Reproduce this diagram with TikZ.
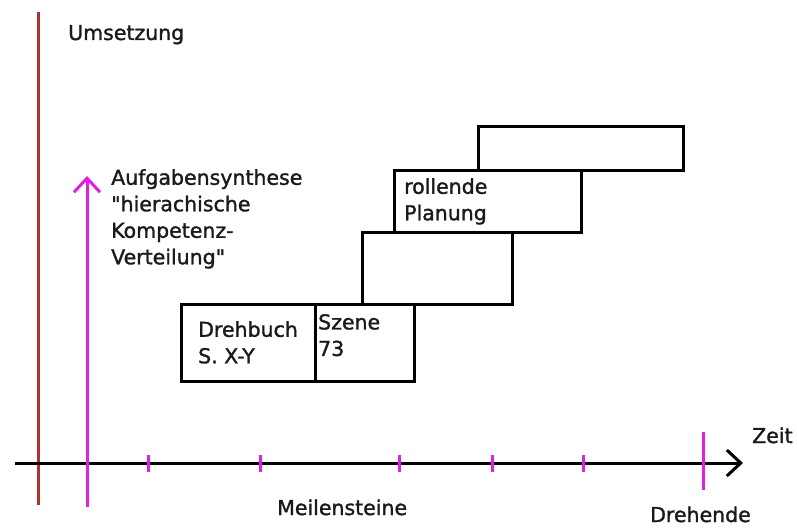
\documentclass[tikz,border=0pt]{standalone}
\usepackage{fontspec}
\setmainfont{DejaVu Sans}
\newfontfamily\lblfont{DejaVu Sans}[FakeBold=1.4]
\usetikzlibrary{arrows.meta}
\definecolor{redline}{HTML}{B03030}
\definecolor{mag}{HTML}{E020E0}
\definecolor{txt}{HTML}{1A1A1A}
\begin{document}
\begin{tikzpicture}[x=1pt,y=-1pt,
  lbl/.style={inner sep=0pt, text=txt, font=\lblfont\fontsize{20.5}{26.5}\selectfont, align=left},
  box/.style={draw=black, line width=3pt, inner sep=0pt, anchor=north west},
  tickmark/.style={draw=mag, line width=3pt},
  axis/.style={draw=black, line width=3pt, -{Straight Barb[length=14pt,width=26pt,line width=3pt]}},
  uparrow/.style={draw=mag, line width=3pt, -{Straight Barb[length=14pt,width=26pt,line width=3pt]}}]
\useasboundingbox (0,0) rectangle (797,527);
% vertical lines
\coordinate (r1) at (38,12);
\coordinate (r2) at (38,505);
\draw[draw=redline, line width=3pt] (r1) -- (r2);
% axis
\coordinate (a1) at (15,463);
\coordinate (a2) at (743,463);
\draw[axis] (a1) -- (a2);
% magenta arrow
\coordinate (m1) at (87,507);
\coordinate (m2) at (87,176);
\draw[uparrow] (m1) -- (m2);
% ticks
\foreach \x/\n in {148/t1,260/t2,399/t3,492/t4,583/t5}{
  \coordinate (\n a) at (\x,455);
  \coordinate (\n b) at (\x,472);
  \draw[tickmark] (\n a) -- (\n b);
}
\coordinate (de1) at (703,432);
\coordinate (de2) at (703,490);
\draw[tickmark] (de1) -- (de2);
% boxes
\node[box, minimum width=134pt, minimum height=77pt] (b1) at (180,303) {};
\node[box, minimum width=99pt, minimum height=77pt] (b2) at (314,303) {};
\node[box, minimum width=150pt, minimum height=72pt] (b3) at (361,231) {};
\node[box, minimum width=187pt, minimum height=62pt] (b4) at (393,169) {};
\node[box, minimum width=205pt, minimum height=44pt] (b5) at (477,125) {};
% box texts
\node[lbl, anchor=north west] (tb1) at (198,321) {Drehbuch\\S. X-Y};
\node[lbl, anchor=north west] (tb2) at (318,314) {Szene\\73};
\node[lbl, anchor=north west] (tb4) at (404,178) {rollende\\Planung};
% labels
\node[lbl, anchor=base west] (umsetzung) at (68,40) {Umsetzung};
\node[lbl, anchor=north west] (aufgabe) at (111,169) {Aufgabensynthese\\\symbol{34}hierachische\\Kompetenz-\\Verteilung\symbol{34}};
\node[lbl, anchor=base west] (zeit) at (752,443) {Zeit};
\node[lbl, anchor=base west] (meilen) at (277,515) {Meilensteine};
\node[lbl, anchor=base west] (drehende) at (650,522) {Drehende};
\end{tikzpicture}
\end{document}
